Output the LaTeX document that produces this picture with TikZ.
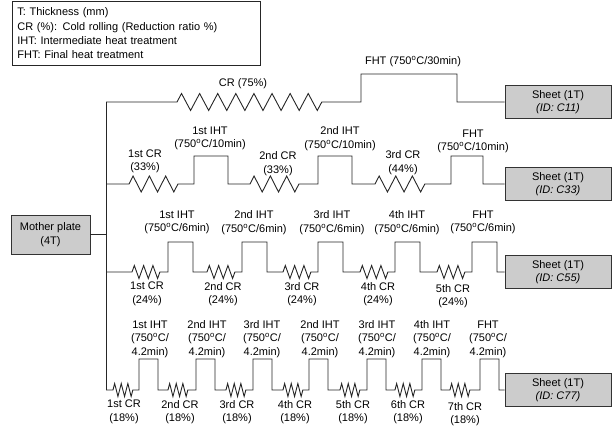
\documentclass[tikz,border=0pt]{standalone}
\usepackage{fontspec}
\setmainfont{Liberation Sans}
\usetikzlibrary{decorations.pathmorphing}
\definecolor{platecol}{RGB}{204,204,204}
\newcommand{\degC}{750\textsuperscript{o}C}

\begin{document}
\begin{tikzpicture}[
  x=1pt, y=-1pt,
  font=\fontsize{11}{13.5}\selectfont,
  plate/.style={draw=black!80, fill=platecol, line width=0.8pt,
                inner sep=0pt, align=center},
  sheet/.style={plate, minimum width=106pt, minimum height=33pt},
  legend/.style={draw=black!85, line width=0.8pt, align=left,
                 text width=238pt, inner xsep=5pt, minimum height=64pt,
                 font=\fontsize{11}{14.3}\selectfont},
  route/.style={draw=black!85, line width=0.9pt},
  zz/.style 2 args={decorate, decoration={zigzag, segment length=#1, amplitude=#2}},
  lbl/.style={align=center, inner sep=0pt}
]
  \useasboundingbox (0,0) rectangle (613,428);

  \node[legend, anchor=north west] (legend) at (12,1)
    {T: Thickness (mm)\\CR (\%): Cold rolling (Reduction ratio \%)\\
     IHT: Intermediate heat treatment\\FHT: Final heat treatment};

  \node[plate, minimum width=79pt, minimum height=39pt] (mother) at (50.5,234.5)
    {Mother plate\\(4T)};
  \node[sheet] (c11) at (558,102) {Sheet (1T)\\\textit{(ID: C11)}};
  \node[sheet] (c33) at (558,184) {Sheet (1T)\\\textit{(ID: C33)}};
  \node[sheet] (c55) at (558,272) {Sheet (1T)\\\textit{(ID: C55)}};
  \node[sheet] (c77) at (558,390) {Sheet (1T)\\\textit{(ID: C77)}};

  % trunk from mother plate
  \coordinate (top) at (106,102);
  \coordinate (bot) at (106,390);
  \draw[route] (mother.east) -- (mother.east -| top);
  \draw[route] (top) -- (bot);

  % route C11
  \draw[route] (top) -- (177,102) decorate[zz={18.1}{8.5}]{-- (322,102)}
    -- (361,102) -- (361,74) -- (457,74) |- (c11.west);
  \node[lbl] (cr1) at (243,84) {CR (75\%)};
  \node[lbl] (fht1) at (413,62) {FHT (\degC/30min)};

  % route C33
  \draw[route] (106,184) -- (129,184) decorate[zz={16.3}{8}]{-- (178,184)}
    -- (194,184) -- (194,156) -- (228,156) -- (228,184)
    -- (250,184) decorate[zz={16.3}{8}]{-- (299,184)}
    -- (318,184) -- (318,156) -- (352,156) -- (352,184)
    -- (375,184) decorate[zz={16.6}{8}]{-- (425,184)}
    -- (451,184) -- (451,156) -- (483,156) |- (c33.west);
  \node[lbl] (cr2-1) at (145,161.5) {1st CR\\(33\%)};
  \node[lbl] (cr2-2) at (278,163.5) {2nd CR\\(33\%)};
  \node[lbl] (cr2-3) at (403,162.5) {3rd CR\\(44\%)};
  \node[lbl] (iht2-1) at (210,138.5) {1st IHT\\(\degC/10min)};
  \node[lbl] (iht2-2) at (340,138.5) {2nd IHT\\(\degC/10min)};
  \node[lbl] (fht2) at (473,141.5) {FHT\\(\degC/10min)};

  % route C55
  \draw[route] (106,272)
    \foreach \zs/\bs in {132/168, 207/242, 283/318, 360/395, 437/472}
      { -- (\zs,272) decorate[zz={9.3}{6.5}]{-- ++(28,0)}
        -- (\bs,272) -- ++(0,-30) -- ++(25,0) -- ++(0,30) }
    -- (c55.west);
  \foreach \x/\y/\t [count=\i] in {147/294/1st, 223/294/2nd, 302/294/3rd,
                                   378/294/4th, 453/296/5th}
    \node[lbl] (cr3-\i) at (\x,\y) {\t{} CR\\(24\%)};
  \foreach \x/\t [count=\i] in {177/1st IHT, 254/2nd IHT, 332/3rd IHT,
                                407/4th IHT, 483/FHT}
    \node[lbl] (iht3-\i) at (\x,222.5) {\t\\(\degC/6min)};

  % route C77
  \draw[route] (bot)
    \foreach \zs/\bs in {113/139, 168/196, 226/253, 283/309,
                         340/367, 395/422, 450/480}
      { -- (\zs,390) decorate[zz={6.6}{6.5}]{-- ++(20,0)}
        -- (\bs,390) -- ++(0,-31) -- ++(19,0) -- ++(0,31) }
    -- (c77.west);
  \foreach \x/\y/\t [count=\i] in {124/412/1st, 180/412/2nd, 237/412/3rd,
                                   295/412/4th, 353/412/5th, 408/412/6th,
                                   465/414/7th}
    \node[lbl] (cr4-\i) at (\x,\y) {\t{} CR\\(18\%)};
  \foreach \x/\t [count=\i] in {150/1st IHT, 207/2nd IHT, 262/3rd IHT,
                                320/2nd IHT, 377/3rd IHT, 432/4th IHT, 488/FHT}
    \node[lbl] (iht4-\i) at (\x,339) {\t\\(\degC/\\4.2min)};
\end{tikzpicture}
\end{document}
